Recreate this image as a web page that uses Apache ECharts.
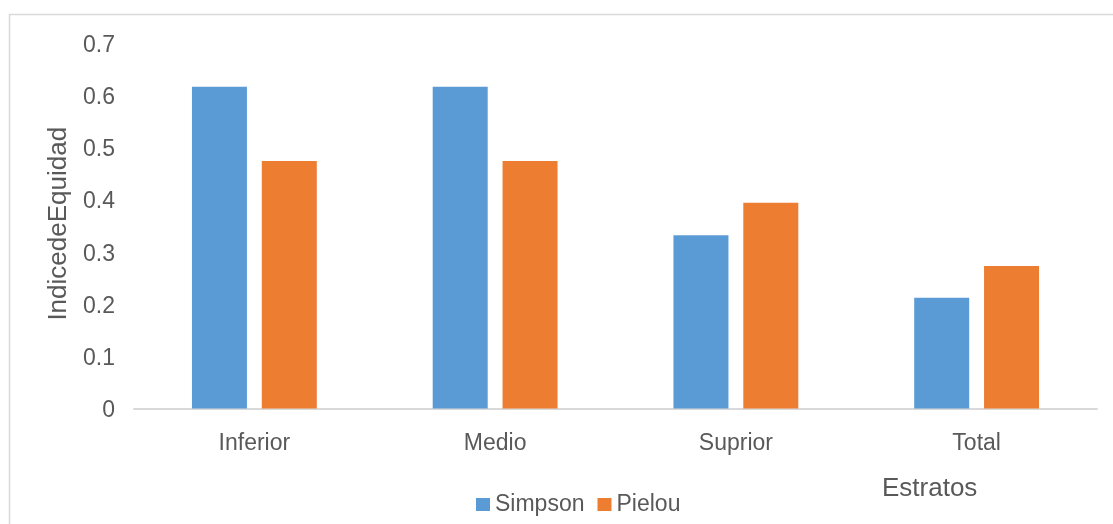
<!DOCTYPE html>
<html>
<head>
<meta charset="utf-8">
<script src="https://cdn.jsdelivr.net/npm/echarts@6/dist/echarts.min.js"></script>
<style>
html,body{margin:0;padding:0;background:#fff;}
#chart{width:1113px;height:524px;}
</style>
</head>
<body>
<div id="chart"></div>
<script>
const categories = ['Inferior', 'Medio', 'Suprior', 'Total'];
const simpson = [0.616, 0.616, 0.332, 0.212];
const pielou = [0.474, 0.474, 0.394, 0.273];
const seriesNames = ['Simpson', 'Pielou'];
const yAxisTitle = 'IndicedeEquidad';
const xAxisTitle = 'Estratos';

const chart = echarts.init(document.getElementById('chart'));
const font = 'Liberation Sans, Arial, sans-serif';
chart.setOption({
  backgroundColor: '#ffffff',
  animation: false,
  textStyle: { fontFamily: font },
  grid: { left: 134, right: 16, top: 43, bottom: 115.5, containLabel: false },
  legend: {
    data: seriesNames,
    left: 471, top: 488,
    itemWidth: 14, itemHeight: 13, itemGap: 13,
    icon: 'rect',
    textStyle: { fontSize: 23, color: '#595959', fontFamily: font }
  },
  graphic: [
    { type: 'rect', left: 7, top: 12, shape: { width: 1300, height: 700 }, style: { fill: 'none', stroke: '#d9d9d9', lineWidth: 1.5 }, silent: true },
    { type: 'text', left: 882, top: 476, style: { text: xAxisTitle, fontSize: 26, fill: '#595959', fontFamily: font } }
  ],
  xAxis: {
    type: 'category',
    data: categories,
    axisLine: { lineStyle: { color: '#d9d9d9', width: 2 } },
    axisTick: { show: false },
    axisLabel: { fontSize: 23, color: '#595959', margin: 24, fontFamily: font },
    splitLine: { show: false }
  },
  yAxis: {
    type: 'value',
    min: 0, max: 0.7, interval: 0.1,
    name: yAxisTitle,
    nameLocation: 'middle',
    nameGap: 51,
    nameRotate: 90,
    nameTextStyle: { fontSize: 26, color: '#595959', fontFamily: font, padding: [0, 0, 0, 4] },
    axisLine: { show: false },
    axisTick: { show: false },
    splitLine: { show: false },
    axisLabel: { fontSize: 23, color: '#595959', margin: 19, fontFamily: font, verticalAlign: 'top', padding: [-9, 0, 0, 0],
      formatter: v => (Math.round(v * 10) / 10).toString() }
  },
  series: [
    { name: seriesNames[0], type: 'bar', data: simpson, barWidth: 55, barGap: '27%', itemStyle: { color: '#5B9BD5' } },
    { name: seriesNames[1], type: 'bar', data: pielou, barWidth: 55, barGap: '27%', itemStyle: { color: '#ED7D31' } }
  ]
});
</script>
</body>
</html>
